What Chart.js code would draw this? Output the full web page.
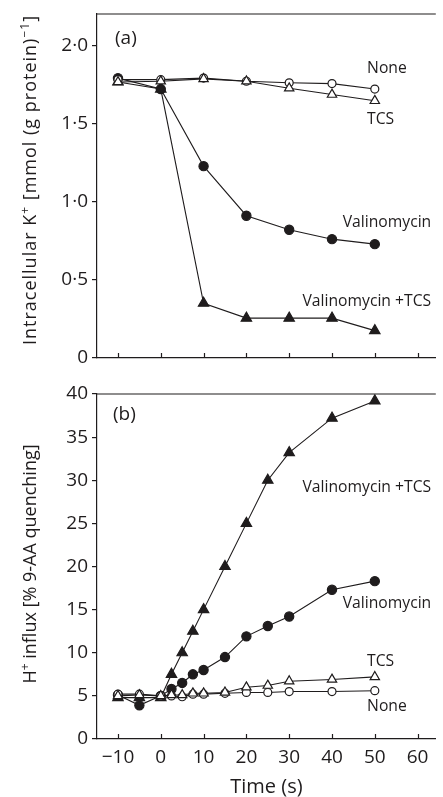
<!DOCTYPE html>
<html>
<head>
<meta charset="utf-8">
<script src="https://cdn.jsdelivr.net/npm/chart.js@4.4.1/dist/chart.umd.min.js"></script>
<style>
  html, body { margin: 0; padding: 0; background: #fff; }
  #wrap { position: relative; width: 443px; height: 797px; overflow: hidden; }
  canvas { position: absolute; left: 0; }
  #chartK { top: 0; }
  #chartH { top: 380px; }
</style>
</head>
<body>
<div id="wrap">
  <canvas id="chartK" width="443" height="370"></canvas>
  <canvas id="chartH" width="443" height="417"></canvas>
</div>
<script>
// (a) intracellular K+, mmol (g protein)^-1
const timeK = [-10, 0, 10, 20, 30, 40, 50];
const kNone = [1.78, 1.78, 1.79, 1.77, 1.76, 1.755, 1.72];
const kTcs = [1.765, 1.77, 1.785, 1.77, 1.725, 1.685, 1.645];
const kVal = [1.79, 1.72, 1.227, 0.91, 0.82, 0.76, 0.728];
const kValTcs = [1.765, 1.72, 0.35, 0.255, 0.255, 0.255, 0.175];

// (b) H+ influx, % 9-AA quenching
const timeH = [-10, -5, 0, 2.5, 5, 7.5, 10, 15, 20, 25, 30, 40, 50];
const hNone = [5.2, 5.2, 5.0, 5.0, 4.9, 5.2, 5.2, 5.3, 5.4, 5.4, 5.5, 5.5, 5.6];
const hTcs = [5.0, 5.1, 5.0, 5.1, 5.1, 5.3, 5.3, 5.4, 6.0, 6.2, 6.7, 6.9, 7.2];
const hVal = [5.1, 3.9, 5.0, 5.8, 6.5, 7.5, 8.0, 9.5, 11.9, 13.1, 14.2, 17.3, 18.3];
const hValTcs = [4.8, 4.8, 4.8, 7.5, 10, 12.5, 15, 20, 25, 30, 33.2, 37.2, 39.2];

// axis ticks
const timeTicks = [-10, 0, 10, 20, 30, 40, 50, 60];
const kTicks = [0, 0.5, 1, 1.5, 2];
const hTicks = [0, 5, 10, 15, 20, 25, 30, 35, 40];

const INK = '#1f1c1d';
const FONT = 'Open Sans';

const openCircle = { pointStyle: 'circle', pointRadius: 4, pointBackgroundColor: '#fff' };
const fullCircle = { pointStyle: 'circle', pointRadius: 4.6, pointBackgroundColor: INK };
const openTri = { pointStyle: 'triangle', pointRadius: 5.4, pointBackgroundColor: '#fff' };
const fullTri = { pointStyle: 'triangle', pointRadius: 6, pointBackgroundColor: INK };

function series(xs, ys, style) {
  return Object.assign({
    data: xs.map((x, i) => ({ x: x, y: ys[i] })),
    showLine: true,
    borderColor: INK,
    borderWidth: 1.1,
    pointBorderColor: INK,
    pointBorderWidth: 1.2,
    pointHoverRadius: 0
  }, style);
}

// rotated axis title with superscript pieces
function drawRich(ctx, parts, baseX, cy, size, spacing) {
  ctx.save();
  ctx.translate(baseX, cy);
  ctx.rotate(-Math.PI / 2);
  ctx.letterSpacing = spacing + 'px';
  ctx.textBaseline = 'alphabetic';
  ctx.textAlign = 'left';
  const fontFor = p => (p.sup ? Math.round(size * 0.64) : size) + 'px "' + FONT + '"';
  let total = 0;
  parts.forEach(p => { ctx.font = fontFor(p); total += ctx.measureText(p.t).width; });
  let pos = -total / 2;
  parts.forEach(p => {
    ctx.font = fontFor(p);
    ctx.fillText(p.t, pos, p.sup ? -size * 0.4 : 0);
    pos += ctx.measureText(p.t).width;
  });
  ctx.restore();
}

// top frame edge and inward x ticks
const frame = {
  id: 'frame',
  afterDraw(chart) {
    const { ctx, chartArea, scales: { x } } = chart;
    ctx.save();
    ctx.strokeStyle = INK;
    ctx.lineWidth = 1.2;
    ctx.beginPath();
    ctx.moveTo(chartArea.left, chartArea.top);
    ctx.lineTo(chartArea.right, chartArea.top);
    x.ticks.forEach(t => {
      const px = Math.round(x.getPixelForValue(t.value)) + 0.5;
      ctx.moveTo(px, chartArea.bottom);
      ctx.lineTo(px, chartArea.bottom - 5);
    });
    ctx.stroke();
    ctx.restore();
  }
};

// panel tag, curve names, y title
const notes = {
  id: 'notes',
  afterDraw(chart, args, opts) {
    const { ctx, scales: { x, y } } = chart;
    ctx.save();
    ctx.fillStyle = INK;
    ctx.textBaseline = 'middle';
    ctx.textAlign = 'left';
    ctx.font = '19px "' + FONT + '"';
    ctx.fillText(opts.tag, opts.tagX, opts.tagY);
    ctx.font = '15.7px "' + FONT + '"';
    opts.names.forEach(n => ctx.fillText(n.text, x.getPixelForValue(n.x), y.getPixelForValue(n.y)));
    drawRich(ctx, opts.title, opts.titleX, opts.titleY, 18, opts.titleSpacing);
    ctx.restore();
  }
};

const fmtK = v => v === 0 ? '0' : v.toFixed(1).replace('.', '\u00b7');
const fmtH = v => String(v);
const fmtT = v => v < 0 ? '\u2212' + Math.abs(v) : String(v);

function xScale(height, showLabels) {
  return {
    type: 'linear', min: -14.9, max: 64.25,
    afterBuildTicks: s => { s.ticks = timeTicks.map(v => ({ value: v })); },
    afterFit: s => { s.height = height; s.paddingLeft = 0; s.paddingRight = 0; },
    grid: { drawOnChartArea: false, drawTicks: false },
    border: { display: true, color: INK, width: 1.2 },
    ticks: {
      display: showLabels, autoSkip: false, maxRotation: 0, padding: 7,
      font: { family: FONT, size: 19 }, color: INK, callback: fmtT
    },
    title: {
      display: showLabels, text: 'Time (s)', color: INK,
      font: { family: FONT, size: 20, lineHeight: 1 }, padding: { top: 0, bottom: 0 }
    }
  };
}

function yScale(max, list, fmt) {
  return {
    type: 'linear', min: 0, max: max,
    afterBuildTicks: s => { s.ticks = list.map(v => ({ value: v })); },
    afterFit: s => { s.width = 97; s.paddingTop = 0; s.paddingBottom = 0; },
    grid: { drawOnChartArea: false, drawTicks: true, tickLength: 5, color: INK, lineWidth: 1.2 },
    border: { display: true, color: INK, width: 1.2 },
    ticks: { autoSkip: false, padding: 4, font: { family: FONT, size: 19 }, color: INK, callback: fmt }
  };
}

function baseOptions(xs, ys, notesOpts) {
  return {
    responsive: false,
    animation: false,
    events: [],
    layout: { padding: { top: 14, left: 0, right: 0, bottom: 0 } },
    scales: { x: xs, y: ys },
    plugins: { legend: { display: false }, tooltip: { enabled: false }, notes: notesOpts }
  };
}

new Chart(document.getElementById('chartK'), {
  type: 'scatter',
  data: {
    datasets: [
      series(timeK, kTcs, openTri),
      series(timeK, kNone, openCircle),
      series(timeK, kValTcs, fullTri),
      series(timeK, kVal, fullCircle)
    ]
  },
  options: baseOptions(xScale(12, false), yScale(2.2, kTicks, fmtK), {
    tag: '(a)', tagX: 115, tagY: 39,
    titleX: 36, titleY: 180, titleSpacing: 1,
    title: [
      { t: 'Intracellular K' }, { t: '+', sup: true },
      { t: ' [mmol (g protein)' }, { t: '\u22121', sup: true }, { t: ']' }
    ],
    names: [
      { text: 'None', x: 48.2, y: 1.849 },
      { text: 'TCS', x: 48.2, y: 1.524 },
      { text: 'Valinomycin', x: 42.5, y: 0.864 },
      { text: 'Valinomycin +TCS', x: 33.1, y: 0.36 }
    ]
  }),
  plugins: [frame, notes]
});

new Chart(document.getElementById('chartH'), {
  type: 'scatter',
  data: {
    datasets: [
      series(timeH, hTcs, openTri),
      series(timeH, hNone, openCircle),
      series(timeH, hValTcs, fullTri),
      series(timeH, hVal, fullCircle)
    ]
  },
  options: baseOptions(xScale(58, true), yScale(40, hTicks, fmtH), {
    tag: '(b)', tagX: 113, tagY: 35,
    titleX: 36, titleY: 184, titleSpacing: 0,
    title: [
      { t: 'H' }, { t: '+', sup: true }, { t: ' influx [% 9-AA quenching]' }
    ],
    names: [
      { text: 'Valinomycin +TCS', x: 33.1, y: 29.1 },
      { text: 'Valinomycin', x: 42.5, y: 15.75 },
      { text: 'TCS', x: 48.2, y: 8.95 },
      { text: 'None', x: 48.2, y: 3.76 }
    ]
  }),
  plugins: [frame, notes]
});
</script>
</body>
</html>
